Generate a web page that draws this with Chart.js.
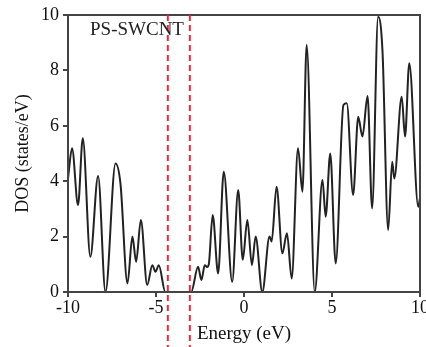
<!DOCTYPE html>
<html>
<head>
<meta charset="utf-8">
<script src="https://cdn.jsdelivr.net/npm/chart.js@4.4.0/dist/chart.umd.min.js"></script>
<style>
  html, body { margin: 0; padding: 0; background: #fff; }
  #wrap { width: 426px; height: 347px; position: relative; }
</style>
</head>
<body>
<div id="wrap"><canvas id="chart"></canvas></div>
<script>
// energy (eV) and density of states
var energy = [-10, -9.77, -9.43, -9.16, -8.73, -8.29, -7.87, -7.3, -7.02, -6.62, -6.34, -6.13, -5.86, -5.5, -5.21, -5.03, -4.84, -4.47,
  -3.0, -2.61, -2.42, -2.23, -2.1, -2.0, -1.78, -1.47, -1.15, -0.67, -0.33, -0.07, 0.19, 0.45, 0.66, 1.04, 1.45, 1.57, 1.85,
  2.18, 2.44, 2.71, 3.07, 3.32, 3.56, 4.02, 4.46, 4.64, 4.9, 5.21, 5.65, 5.84, 6.2, 6.49, 6.73, 7.02, 7.28, 7.62, 7.87,
  8.19, 8.42, 8.54, 8.96, 9.15, 9.39, 9.9, 10];
var dos = [4.1, 5.19, 3.14, 5.55, 1.27, 4.19, 0, 4.64, 3.92, 0.31, 2.0, 1.09, 2.6, 0.25, 0.97, 0.73, 0.97, 0,
  0, 0.91, 0.43, 0.97, 0.9, 1.0, 2.78, 0.67, 4.34, 0.37, 3.68, 1.16, 2.6, 0.97, 2.0, 0, 2.0, 1.82, 3.8,
  1.4, 2.12, 0.49, 5.19, 3.62, 8.92, 0, 4.04, 2.72, 5.0, 1.03, 6.75, 6.81, 3.5, 6.33, 5.61, 7.08, 3.02, 9.94, 8.68,
  2.24, 4.7, 4.1, 7.05, 5.61, 8.26, 3.08, 3.4];

// red dashed markers
var gapLines = [-4.33, -3.08];
var xTicks = [-10, -5, 0, 5, 10];
var yTicks = [0, 2, 4, 6, 8, 10];
var label = 'PS-SWCNT';

var points = [];
for (var i = 0; i < energy.length; i++) {
  points.push({ x: energy[i], y: dos[i] });
}

var serif = '"Liberation Serif", "Times New Roman", serif';

var extras = {
  id: 'extras',
  afterDraw: function(chart) {
    var ctx = chart.ctx;
    var area = chart.chartArea;
    var xs = chart.scales.x, ys = chart.scales.y;
    ctx.save();
    // frame
    ctx.strokeStyle = '#444';
    ctx.lineWidth = 2;
    ctx.strokeRect(area.left, area.top, area.right - area.left, area.bottom - area.top);
    // dashed lines
    ctx.strokeStyle = '#e8283c';
    ctx.lineWidth = 2;
    ctx.setLineDash([6, 4]);
    gapLines.forEach(function(v) {
      var px = xs.getPixelForValue(v);
      ctx.beginPath();
      ctx.moveTo(px, area.top);
      ctx.lineTo(px, chart.height);
      ctx.stroke();
    });
    ctx.setLineDash([]);
    // label
    ctx.fillStyle = '#222';
    ctx.font = '19px ' + serif;
    ctx.textAlign = 'left';
    ctx.textBaseline = 'middle';
    ctx.fillText(label, xs.getPixelForValue(-8.75), ys.getPixelForValue(9.45));
    ctx.restore();
  }
};

var ctx = document.getElementById('chart').getContext('2d');
window.chart = new Chart(ctx, {
  type: 'line',
  data: {
    datasets: [{
      data: points,
      borderColor: '#222',
      borderWidth: 2,
      pointRadius: 0,
      fill: false,
      cubicInterpolationMode: 'monotone'
    }]
  },
  options: {
    responsive: true,
    maintainAspectRatio: false,
    animation: false,
    layout: { padding: { top: 15, right: 6, left: 0, bottom: 0 } },
    plugins: { legend: { display: false }, tooltip: { enabled: false } },
    scales: {
      x: {
        type: 'linear',
        min: -10, max: 10,
        afterBuildTicks: function(s) { s.ticks = xTicks.map(function(v) { return { value: v }; }); },
        afterFit: function(s) { s.height = 55; s.paddingRight = 0; s.paddingLeft = 0; },
        grid: { drawOnChartArea: false, drawTicks: true, tickLength: 5, color: '#444', lineWidth: 2 },
        border: { display: true, color: '#444', width: 2 },
        ticks: { color: '#111', font: { family: serif, size: 18 }, padding: 0, maxRotation: 0 },
        title: { display: true, text: 'Energy (eV)', color: '#111', font: { family: serif, size: 19 }, padding: { top: 2, bottom: 2 } }
      },
      y: {
        min: 0, max: 10,
        afterBuildTicks: function(s) { s.ticks = yTicks.map(function(v) { return { value: v }; }); },
        afterFit: function(s) { s.width = 68; s.paddingTop = 0; s.paddingBottom = 0; },
        grid: { drawOnChartArea: false, drawTicks: true, tickLength: 5, color: '#444', lineWidth: 2 },
        border: { display: true, color: '#444', width: 2 },
        ticks: { color: '#111', font: { family: serif, size: 18 }, padding: 4 },
        title: { display: true, text: 'DOS (states/eV)', color: '#111', font: { family: serif, size: 18 }, padding: { top: 12, bottom: 0 } }
      }
    }
  },
  plugins: [extras]
});
</script>
</body>
</html>
